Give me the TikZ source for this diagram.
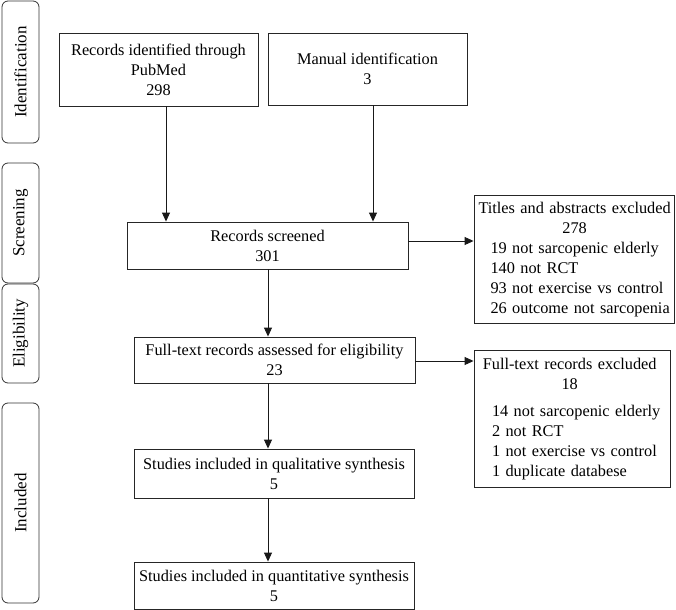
\documentclass[tikz,border=0pt]{standalone}
\usepackage{fontspec}
\setmainfont{Liberation Serif}
\usetikzlibrary{arrows.meta}
\begin{document}
\begin{tikzpicture}[x=1bp,y=-1bp,
  txt/.style={font=\fontsize{16.3bp}{20bp}\selectfont},
  box/.style={txt, draw=black!85, line width=0.9bp, inner sep=0pt, align=center},
  listbox/.style={box, align=left},
  side/.style={font=\fontsize{17bp}{20bp}\selectfont, draw=black!80, line width=0.8bp, rounded corners=6bp, rotate=90, minimum height=37bp, inner sep=0pt},
  arr/.style={draw=black!90, line width=0.9bp, -{Triangle[length=9bp,width=8bp]}}
]
\useasboundingbox (0,0) rectangle (676,610);

% side stage labels
\node[side, minimum width=142bp] (sid)  at (20.5,72)    {Identification};
\node[side, minimum width=120bp] (sscr) at (20.5,223)   {Screening};
\node[side, minimum width=99bp]  (sel)  at (20.5,333.5) {Eligibility};
\node[side, minimum width=200bp] (sinc) at (20.5,503)   {Included};

% main boxes
\node[box, minimum width=199bp, minimum height=73bp] (pub) at (158.5,69.5)
  {Records identified through\\PubMed\\298};
\node[box, minimum width=199bp, minimum height=72bp] (man) at (367.5,69)
  {Manual identification\\3};
\node[box, minimum width=281bp, minimum height=47bp] (scr) at (267.5,245.5)
  {Records screened\\301};
\node[listbox, minimum width=200bp, minimum height=128bp, text width=191bp] (titles) at (574,259)
  {\begin{tabular}{@{}l@{}}
   \multicolumn{1}{@{}c@{}}{Titles and abstracts excluded}\\
   \multicolumn{1}{@{}c@{}}{278}\\
   \hspace{12bp}19 not sarcopenic elderly\\
   \hspace{12bp}140 not RCT\\
   \hspace{12bp}93 not exercise vs control\\
   \hspace{12bp}26 outcome not sarcopenia
   \end{tabular}};
\node[box, minimum width=281bp, minimum height=46bp] (full) at (274.5,360)
  {Full-text records assessed for eligibility\\23};
\node[listbox, minimum width=196bp, minimum height=137bp, text width=186bp] (ftex) at (572,418.5)
  {\begin{tabular}{@{}l@{}}
   \multicolumn{1}{@{}c@{}}{Full-text records excluded}\\
   \multicolumn{1}{@{}c@{}}{18}\\[7bp]
   \hspace{13bp}14 not sarcopenic elderly\\
   \hspace{13bp}2 not RCT\\
   \hspace{13bp}1 not exercise vs control\\
   \hspace{13bp}1 duplicate databese
   \end{tabular}};
\node[box, minimum width=280bp, minimum height=49bp] (qual) at (274,473.5)
  {Studies included in qualitative synthesis\\5};
\node[box, minimum width=280bp, minimum height=47bp] (quant) at (274,585.5)
  {Studies included in quantitative synthesis\\5};

% connector guide coordinates
\coordinate (xa) at (166,0);
\coordinate (xb) at (373,0);
\coordinate (xc) at (268,0);
\coordinate (ya) at (0,241);
\coordinate (yb) at (0,361);

% connectors
\draw[arr] (pub.south -| xa) -- (scr.north -| xa);
\draw[arr] (man.south -| xb) -- (scr.north -| xb);
\draw[arr] (scr.east |- ya) -- (titles.west |- ya);
\draw[arr] (scr.south -| xc) -- (full.north -| xc);
\draw[arr] (full.east |- yb) -- (ftex.west |- yb);
\draw[arr] (full.south -| xc) -- (qual.north -| xc);
\draw[arr] (qual.south -| xc) -- (quant.north -| xc);
\end{tikzpicture}
\end{document}
